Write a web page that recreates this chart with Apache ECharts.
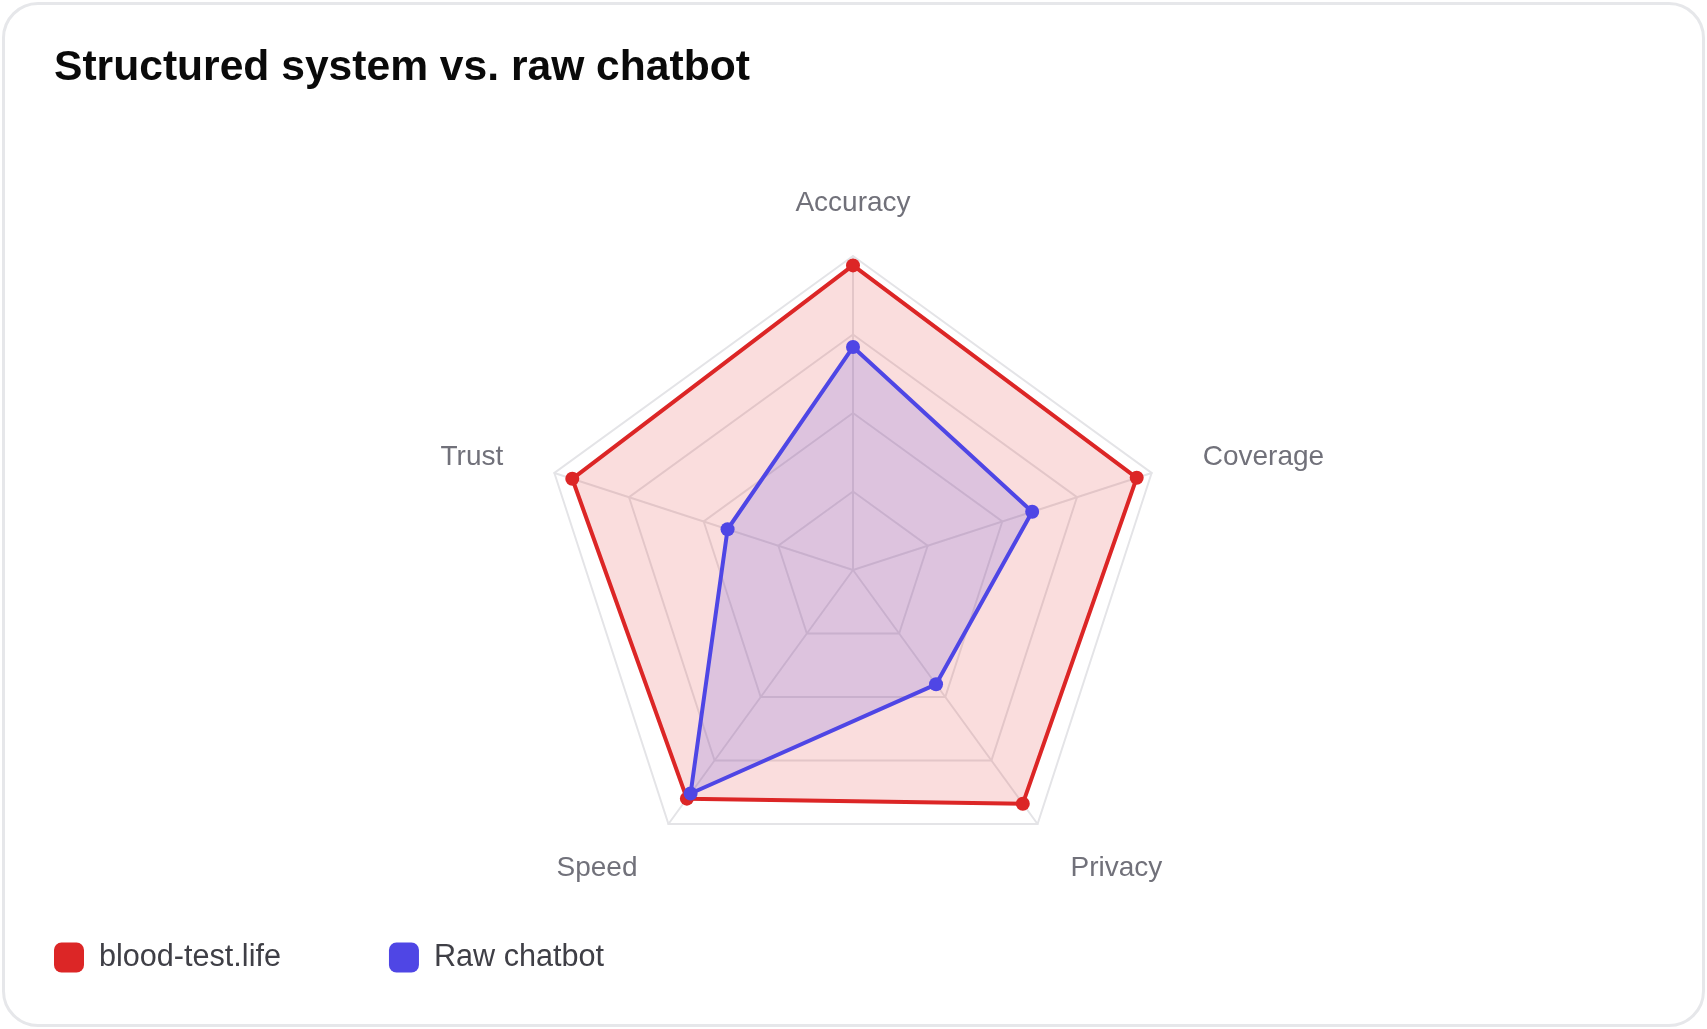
<!DOCTYPE html>
<html>
<head>
<meta charset="utf-8">
<title>Structured system vs. raw chatbot</title>
<script src="https://cdn.jsdelivr.net/npm/echarts@6.0.0/dist/echarts.min.js"></script>
<style>
html, body {
  margin: 0;
  padding: 0;
  width: 100%;
  height: 100%;
  background: #fff;
  overflow: hidden;
}
.card {
  position: absolute;
  left: 2px;
  top: 2px;
  right: 2px;
  bottom: 2px;
  border: 3px solid #e6e7ea;
  border-radius: 36px;
  background: #fff;
}
#RadarChart {
  position: absolute;
  left: 0;
  top: 0;
  width: 1707px;
  height: 1029px;
}
</style>
</head>
<body>
<div class="card"></div>
<div id="RadarChart"></div>
<script>
// indicator order as ECharts lays them out (counter-clockwise from the top)
const categories = ['Accuracy', 'Trust', 'Speed', 'Privacy', 'Coverage']
const maxValue = 100
const structuredValues = [97, 94, 90, 92, 95]
const chatbotValues = [71, 42, 88, 45, 60]
const seriesNames = ['blood-test.life', 'Raw chatbot']

const RED = '#dc2626'
const BLUE = '#4f46e5'
const LABEL = '#71717a'
const FONT = '"Liberation Sans", Arial, Helvetica, sans-serif'

// per-label nudges so the names sit where the reference puts them
const labelStyle = {
  Trust: 'tl',
  Coverage: 'tr',
  Speed: 'bl',
  Privacy: 'br'
}

const option = {
  title: {
    text: 'Structured system vs. raw chatbot',
    left: 49,
    top: 42,
    textStyle: {
      fontFamily: FONT,
      fontSize: 42.6,
      fontWeight: 'bold',
      color: '#0a0a0a'
    }
  },
  legend: {
    data: seriesNames,
    left: 49,
    top: 937,
    icon: 'roundRect',
    itemWidth: 30,
    itemHeight: 30,
    itemGap: 108,
    selectedMode: false,
    textStyle: {
      fontFamily: FONT,
      fontSize: 30.6,
      color: '#3f3f46',
      padding: [0, 0, 0, 10]
    }
  },
  radar: {
    center: [853, 570],
    radius: 314,
    shape: 'polygon',
    splitNumber: 4,
    indicator: categories.map(name => ({ name: name, max: maxValue })),
    axisName: {
      fontFamily: FONT,
      fontSize: 28,
      color: LABEL,
      formatter: function (value) {
        const key = labelStyle[value]
        return key ? '{' + key + '|' + value + '}' : value
      },
      rich: {
        tl: { fontFamily: FONT, fontSize: 28, color: LABEL, padding: [0, 14, 7, 0] },
        tr: { fontFamily: FONT, fontSize: 28, color: LABEL, padding: [0, 0, 7, 14] },
        bl: { fontFamily: FONT, fontSize: 28, color: LABEL, padding: [25, 8, 0, 0] },
        br: { fontFamily: FONT, fontSize: 28, color: LABEL, padding: [25, 0, 0, 10] }
      }
    },
    nameGap: 39,
    axisLine: {
      lineStyle: { color: '#e4e4e7', width: 2 }
    },
    splitLine: {
      lineStyle: { color: '#e4e4e7', width: 2 }
    },
    splitArea: { show: false }
  },
  series: [
    {
      type: 'radar',
      silent: true,
      data: [
        {
          name: seriesNames[0],
          value: structuredValues,
          symbol: 'circle',
          symbolSize: 14,
          itemStyle: { color: RED },
          lineStyle: { color: RED, width: 4 },
          areaStyle: { color: 'rgba(220,38,38,0.155)', opacity: 1 }
        },
        {
          name: seriesNames[1],
          value: chatbotValues,
          symbol: 'circle',
          symbolSize: 14,
          itemStyle: { color: BLUE },
          lineStyle: { color: BLUE, width: 4 },
          areaStyle: { color: 'rgba(79,70,229,0.17)', opacity: 1 }
        }
      ]
    }
  ]
}

const chart = echarts.init(document.getElementById('RadarChart'))
chart.setOption(option)
</script>
</body>
</html>
